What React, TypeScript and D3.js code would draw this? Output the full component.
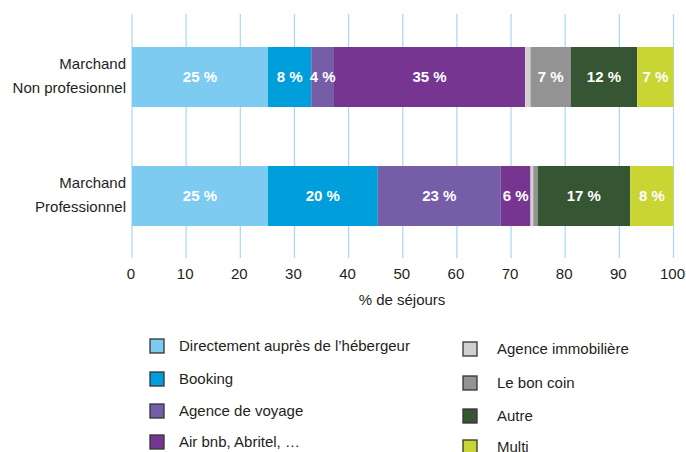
import React from "react";
import * as d3 from "d3";

const categories = ["Marchand\nNon profesionnel", "Marchand\nProfessionnel"];
const seriesNames = [
  "Directement auprès de l’hébergeur",
  "Booking",
  "Agence de voyage",
  "Air bnb, Abritel, …",
  "Agence immobilière",
  "Le bon coin",
  "Autre",
  "Multi",
];
const valuesNonPro = [25.1, 8.0, 4.2, 35.3, 1.0, 7.4, 12.3, 6.7];
const valuesPro = [25.1, 20.3, 22.7, 5.5, 0.5, 0.8, 17.1, 8.0];
const labelsNonPro = ["25 %", "8 %", "4 %", "35 %", "", "7 %", "12 %", "7 %"];
const labelsPro = ["25 %", "20 %", "23 %", "6 %", "", "", "17 %", "8 %"];
const ticks = [0, 10, 20, 30, 40, 50, 60, 70, 80, 90, 100];
const colors = ["#7dcbf0", "#009edb", "#755da8", "#763591", "#d0d0d0", "#939393", "#355533", "#c8d532"];

const W = 686;
const H = 452;

export default function App() {
  const x = d3.scaleLinear().domain([0, 100]).range([132, 673.5]);
  const y = d3.scaleBand().domain(categories).range([14, 258]).paddingInner(0.98).paddingOuter(0.4);
  const rows = [
    { cat: categories[0], vals: valuesNonPro, labels: labelsNonPro },
    { cat: categories[1], vals: valuesPro, labels: labelsPro },
  ];
  const barY = [47, 166];
  const barH = 60;
  const font = "'Liberation Sans', Arial, Helvetica, sans-serif";
  const narrow = "'Liberation Sans Narrow', 'Liberation Sans', Arial, sans-serif";
  const txt = "#231f20";

  const leftLegend = [0, 1, 2, 3];
  const rightLegend = [4, 5, 6, 7];
  const legY1 = [346, 379, 411, 442];
  const legY2 = [349, 383, 416, 447];

  return (
    <svg width={W} height={H} style={{ position: "absolute", left: 0, top: 0 }}>
      <rect width={W} height={H} fill="#fff" />
      {ticks.map((t) => (
        <line key={t} x1={x(t)} x2={x(t)} y1={14} y2={258} stroke="#a8d8f3" strokeWidth={1.2} />
      ))}
      {rows.map((r, ri) => {
        const stack = d3.cumsum(r.vals);
        return (
          <g key={ri}>
            {r.vals.map((v, i) => {
              const x0 = x(stack[i] - v);
              const x1 = x(stack[i]);
              return <rect key={i} x={x0} y={barY[ri]} width={x1 - x0} height={barH} fill={colors[i]} />;
            })}
            {r.vals.map((v, i) =>
              r.labels[i] ? (
                <text
                  key={"l" + i}
                  x={x(stack[i] - v / 2)}
                  y={barY[ri] + barH / 2 + 5}
                  textAnchor="middle"
                  fill="#fff"
                  fontWeight="bold"
                  fontSize={15}
                  fontFamily={narrow}
                >
                  {r.labels[i]}
                </text>
              ) : null
            )}
            {r.cat.split("\n").map((line, li) => (
              <text
                key={"c" + li}
                x={126}
                y={barY[ri] + 22 + li * 24}
                textAnchor="end"
                fill={txt}
                fontSize={15}
                fontFamily={narrow}
              >
                {line}
              </text>
            ))}
          </g>
        );
      })}
      {ticks.map((t) => (
        <text key={"t" + t} x={x(t) - 1} y={279} textAnchor="middle" fill={txt} fontSize={15} fontFamily={narrow}>
          {t}
        </text>
      ))}
      <text x={402} y={305} textAnchor="middle" fill={txt} fontSize={15} fontFamily={narrow}>
        % de séjours
      </text>
      {leftLegend.map((s, i) => (
        <g key={"lg" + s}>
          <rect x={150} y={legY1[i] - 7} width={14} height={14} fill={colors[s]} stroke="#333" strokeWidth={1.3} />
          <text x={179} y={legY1[i] + 5} fill={txt} fontSize={15} fontFamily={narrow}>
            {seriesNames[s]}
          </text>
        </g>
      ))}
      {rightLegend.map((s, i) => (
        <g key={"rg" + s}>
          <rect x={463} y={legY2[i] - 7} width={14} height={14} fill={colors[s]} stroke="#333" strokeWidth={1.3} />
          <text x={497} y={legY2[i] + 5} fill={txt} fontSize={15} fontFamily={narrow}>
            {seriesNames[s]}
          </text>
        </g>
      ))}
    </svg>
  );
}
